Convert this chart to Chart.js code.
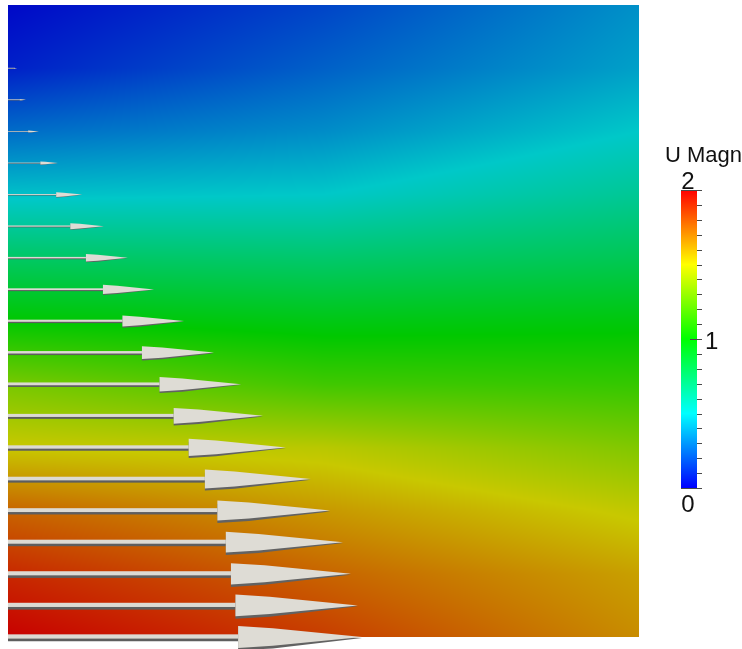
<!DOCTYPE html>
<html>
<head>
<meta charset="utf-8">
<script src="https://cdn.jsdelivr.net/npm/chart.js@4/dist/chart.umd.min.js"></script>
<style>
   body { margin: 0; background: #fff; }
   #chart { display: block; }
</style>
</head>
<body>
<canvas id="chart" width="742" height="649"></canvas>
<script>
// поле |U| на сетке: три столбца (x = 0, 10, 20), строки сверху вниз
const fieldX = [0, 10, 20]
const fieldY = [20, 18, 16, 14, 12, 10, 8, 6, 4, 2, 0]
const magLeft = [0.02, 0.08, 0.27, 0.48, 0.75, 1.0, 1.3, 1.5, 1.75, 1.9, 2.0]
const magMid = [0.17, 0.24, 0.35, 0.5, 0.73, 0.95, 1.16, 1.46, 1.62, 1.75, 1.85]
const magRight = [0.36, 0.4, 0.5, 0.63, 0.79, 0.97, 1.13, 1.32, 1.48, 1.6, 1.65]

// стрелки: высота и длина (Ux)
const arrowY = [18, 17, 16, 15, 14, 13, 12, 11, 10, 9, 8, 7, 6, 5, 4, 3, 2, 1, 0]
const arrowU = [0.29, 0.57, 0.98, 1.58, 2.35, 3.04, 3.80, 4.63, 5.58, 6.53,
   7.39, 8.08, 8.81, 9.60, 10.21, 10.62, 10.87, 11.09, 11.22]

// шкала
const barMin = 0
const barMax = 2
const barLabels = ["0", "1", "2"]
const barTitle = "U Magnitude"

function hsv(h, v) {
   const c = v
   const hp = h / 60
   const x = c * (1 - Math.abs(hp % 2 - 1))
   let r = 0, g = 0, b = 0
   if (hp < 1) { r = c; g = x }
   else if (hp < 2) { r = x; g = c }
   else if (hp < 3) { g = c; b = x }
   else if (hp < 4) { g = x; b = c }
   else { r = x; b = c }
   return [r * 255, g * 255, b * 255]
}

function colorFor(m, v) {
   let t = (m - barMin) / (barMax - barMin)
   t = Math.max(0, Math.min(1, t))
   return hsv(240 * (1 - t), v)
}

function interp(arr, pos, val) {
   // pos может быть по убыванию
   const n = pos.length
   const desc = pos[0] > pos[n - 1]
   for (let i = 0; i < n - 1; i++) {
      const a = pos[i], b = pos[i + 1]
      const lo = Math.min(a, b), hi = Math.max(a, b)
      if (val >= lo && val <= hi) {
         const f = (val - a) / (b - a)
         return arr[i] + (arr[i + 1] - arr[i]) * f
      }
   }
   if (desc) return val > pos[0] ? arr[0] : arr[n - 1]
   return val < pos[0] ? arr[0] : arr[n - 1]
}

const columns = [magLeft, magMid, magRight]

function magAt(x, y) {
   const col = columns.map(c => interp(c, fieldY, y))
   return interp(col, fieldX, x)
}

const fieldPlugin = {
   id: "field",
   beforeDatasetsDraw(chart) {
      const { ctx, chartArea, scales } = chart
      const left = Math.round(chartArea.left)
      const top = Math.round(chartArea.top)
      const w = Math.round(chartArea.right) - left
      const h = Math.round(chartArea.bottom) - top
      const img = ctx.createImageData(w, h)
      for (let j = 0; j < h; j++) {
         const yv = scales.y.getValueForPixel(top + j + 0.5)
         for (let i = 0; i < w; i++) {
            const xv = scales.x.getValueForPixel(left + i + 0.5)
            const c = colorFor(magAt(xv, yv), 0.785)
            const k = (j * w + i) * 4
            img.data[k] = c[0]
            img.data[k + 1] = c[1]
            img.data[k + 2] = c[2]
            img.data[k + 3] = 255
         }
      }
      ctx.putImageData(img, left, top)
   }
}

function headPath(ctx, hx, tip, y, hw, dy) {
   const mid = hx + (tip - hx) * 0.28
   ctx.beginPath()
   ctx.moveTo(hx, y - hw / 2 + dy)
   ctx.lineTo(mid, y - hw * 0.4 + dy)
   ctx.lineTo(tip, y + dy * 0.3)
   ctx.lineTo(mid, y + hw * 0.4 + dy)
   ctx.lineTo(hx, y + hw / 2 + dy)
   ctx.closePath()
}

const arrowPlugin = {
   id: "arrows",
   afterDatasetsDraw(chart) {
      const { ctx, scales } = chart
      const meta = chart.getDatasetMeta(0)
      const x0 = scales.x.getPixelForValue(0)
      ctx.save()
      meta.data.forEach(pt => {
         const tip = pt.x
         const y = pt.y
         const len = tip - x0
         const head = len * 0.35
         const hw = len * 0.062
         const sw = Math.max(0.8, len * 0.015)
         const hx = tip - head

         // стержень
         ctx.fillStyle = "#5e5e5e"
         ctx.fillRect(x0, y - sw / 2 + sw * 0.4, hx - x0, sw * 0.9)
         ctx.fillStyle = "#dcdad3"
         ctx.fillRect(x0, y - sw / 2, hx - x0 + 1, sw * 0.8)

         // наконечник: тень и светлая часть
         ctx.fillStyle = "#626262"
         headPath(ctx, hx, tip, y, hw * 0.95, hw * 0.14)
         ctx.fill()

         ctx.fillStyle = "#dedcd5"
         headPath(ctx, hx, tip, y, hw, 0)
         ctx.fill()
      })
      ctx.restore()
   }
}

const colorBarPlugin = {
   id: "colorBar",
   afterDraw(chart) {
      const ctx = chart.ctx
      const bx = 681, bw = 16, by = 190, bh = 298
      ctx.save()
      for (let j = 0; j < bh; j++) {
         const m = barMax - (barMax - barMin) * (j + 0.5) / bh
         const c = colorFor(m, 1)
         ctx.fillStyle = `rgb(${c[0]},${c[1]},${c[2]})`
         ctx.fillRect(bx, by + j, bw, 1)
      }
      // риски
      ctx.strokeStyle = "#4a4a4a"
      ctx.lineWidth = 1
      for (let k = 0; k <= 20; k++) {
         const ty = Math.round(by + bh * k / 20) + 0.5
         let x1 = bx + bw
         if (k === 0 || k === 20) x1 = bx
         if (k === 10) x1 = bx + 9
         ctx.beginPath()
         ctx.moveTo(x1, ty)
         ctx.lineTo(bx + bw + 5, ty)
         ctx.stroke()
      }
      ctx.fillStyle = "#111"
      ctx.font = "24px 'Liberation Sans', Arial, sans-serif"
      ctx.textBaseline = "middle"
      ctx.textAlign = "center"
      ctx.fillText(barLabels[2], bx + 7, by - 8)
      ctx.fillText(barLabels[0], bx + 7, by + bh + 17)
      ctx.textAlign = "left"
      ctx.fillText(barLabels[1], bx + bw + 8, by + bh / 2 + 3)
      ctx.font = "22px 'Liberation Sans', Arial, sans-serif"
      ctx.textBaseline = "alphabetic"
      ctx.fillText(barTitle, 665, 162)
      ctx.restore()
   }
}

new Chart(document.getElementById("chart"), {
   type: "scatter",
   data: {
      datasets: [{
         data: arrowY.map((y, i) => ({ x: arrowU[i], y: y })),
         pointRadius: 0,
         showLine: false
      }]
   },
   options: {
      responsive: false,
      animation: false,
      layout: {
         padding: { left: 8, top: 5, right: 103, bottom: 12 }
      },
      plugins: {
         legend: { display: false },
         tooltip: { enabled: false }
      },
      scales: {
         x: { type: "linear", min: 0, max: 20, display: false },
         y: { type: "linear", min: 0, max: 20, display: false }
      }
   },
   plugins: [fieldPlugin, arrowPlugin, colorBarPlugin]
})
</script>
</body>
</html>
